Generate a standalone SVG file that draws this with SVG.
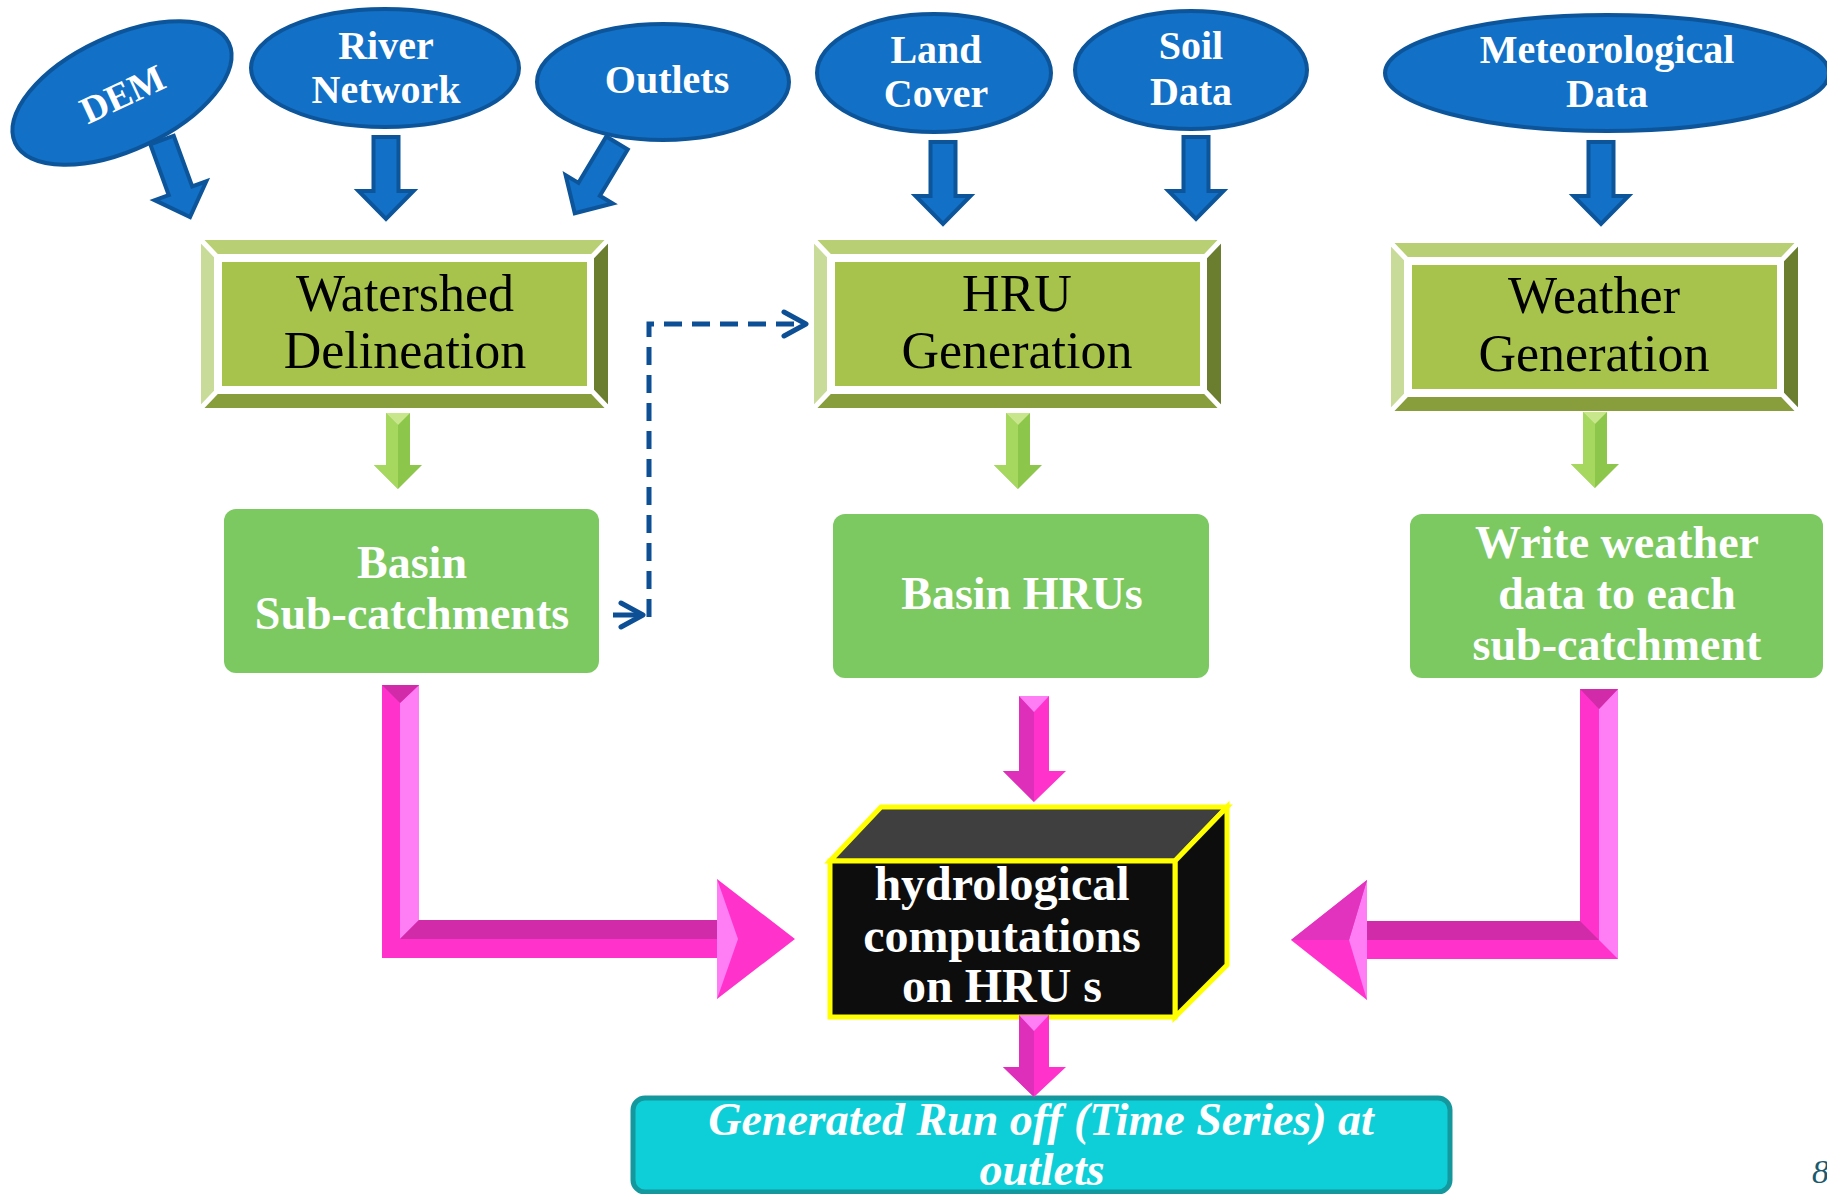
<svg xmlns="http://www.w3.org/2000/svg" xmlns:xlink="http://www.w3.org/1999/xlink" width="1827" height="1194" viewBox="0 0 1827 1194">
<style>
.ell{fill:#1270C6;stroke:#0C559A;stroke-width:4}
.et{font-family:"Liberation Serif",serif;font-weight:bold;font-size:40px;fill:#fff;text-anchor:middle}
.bt{font-family:"Liberation Serif",serif;font-size:52px;fill:#000;text-anchor:middle}
.gr{fill:#7CC962}
.gt{font-family:"Liberation Serif",serif;font-weight:bold;font-size:46px;fill:#fff;text-anchor:middle}
.ct{font-family:"Liberation Serif",serif;font-weight:bold;font-size:48px;fill:#fff;text-anchor:middle}
.cube{stroke:#FFFF00;stroke-width:5;stroke-linejoin:miter}
.ot{font-family:"Liberation Serif",serif;font-weight:bold;font-style:italic;font-size:46px;fill:#fff;text-anchor:middle}
.pk{fill:#FF33CC}
.pl{fill:#FF7DF5}
.pd{fill:#D22BAA}
.dash{fill:none;stroke:#0D4F95;stroke-width:5;stroke-dasharray:18 10}
.solid{fill:none;stroke:#0D4F95;stroke-width:5}
</style>
<defs>
<g id="bevelbox">
<polygon points="0,0 407,0 393,14 13,14" fill="#B8CF74"/>
<polygon points="0,0 13,14 13,154 0,168" fill="#C9DB98"/>
<polygon points="0,168 13,154 393,154 407,168" fill="#889D3C"/>
<polygon points="407,0 407,168 393,154 393,14" fill="#6B7D2F"/>
<rect x="13" y="14" width="380" height="140" fill="#fff"/>
<rect x="21" y="22" width="365" height="124" fill="#A8C34B"/>
<path d="M0,0 L21,22 M407,0 L386,22 M0,168 L21,146 M407,168 L386,146" stroke="#fff" stroke-width="5"/>
</g>
<path id="barrow" d="M-12.5,0 H12.5 V54 H27.5 L0,82 L-27.5,54 H-12.5 Z" fill="#1270C6" stroke="#0C559A" stroke-width="4"/>
<g id="garrow">
<path d="M-12,0 H12 V52 H24 L0,76 L-24,52 H-12 Z" fill="#8CC64A"/>
<path d="M-12,0 L0,12 V76 L-24,52 H-12 Z" fill="#A6D85F"/>
<path d="M-12,0 H12 L0,12 Z" fill="#C8E68C"/>
</g>
<marker id="chev" markerUnits="userSpaceOnUse" markerWidth="30" markerHeight="30" viewBox="0 0 30 30" refX="25" refY="15" orient="auto">
<path d="M3,3 L25,15 L3,27" fill="none" stroke="#0D4F95" stroke-width="5" stroke-dasharray="none" stroke-linecap="round" stroke-linejoin="round"/>
</marker>
</defs>

<g id="dem">
<ellipse class="ell" cx="122" cy="93" rx="118" ry="57" transform="rotate(-25 122 93)"/>
<text class="et" x="122" y="107" transform="rotate(-25 122 93)" style="font-size:38px">DEM</text>
</g>
<g id="river">
<ellipse class="ell" cx="385" cy="68" rx="134" ry="59"/>
<text class="et" x="386" y="59">River</text>
<text class="et" x="386" y="103">Network</text>
</g>
<g id="outlets">
<ellipse class="ell" cx="663" cy="82" rx="126" ry="58"/>
<text class="et" x="667" y="93">Outlets</text>
</g>
<g id="landcover">
<ellipse class="ell" cx="934" cy="73" rx="117" ry="59"/>
<text class="et" x="936" y="63">Land</text>
<text class="et" x="936" y="107">Cover</text>
</g>
<g id="soil">
<ellipse class="ell" cx="1191" cy="70" rx="116" ry="59"/>
<text class="et" x="1191" y="59">Soil</text>
<text class="et" x="1191" y="105">Data</text>
</g>
<g id="meteo">
<ellipse class="ell" cx="1607" cy="73" rx="222" ry="58"/>
<text class="et" x="1607" y="63">Meteorological</text>
<text class="et" x="1607" y="107">Data</text>
</g>

<g id="watershed">
<use xlink:href="#bevelbox" x="201" y="240"/>
<text class="bt" x="405" y="311">Watershed</text>
<text class="bt" x="405" y="368">Delineation</text>
</g>
<g id="hrugen">
<use xlink:href="#bevelbox" x="814" y="240"/>
<text class="bt" x="1017" y="311">HRU</text>
<text class="bt" x="1017" y="368">Generation</text>
</g>
<g id="weathergen">
<use xlink:href="#bevelbox" x="1391" y="243"/>
<text class="bt" x="1594" y="313">Weather</text>
<text class="bt" x="1594" y="371">Generation</text>
</g>

<g id="basin">
<rect class="gr" x="224" y="509" width="375" height="164" rx="12"/>
<text class="gt" x="412" y="578">Basin</text>
<text class="gt" x="412" y="629">Sub-catchments</text>
</g>
<g id="basinhrus">
<rect class="gr" x="833" y="514" width="376" height="164" rx="12"/>
<text class="gt" x="1022" y="609">Basin HRUs</text>
</g>
<g id="writeweather">
<rect class="gr" x="1410" y="514" width="413" height="164" rx="12"/>
<text class="gt" x="1617" y="558">Write weather</text>
<text class="gt" x="1617" y="609">data to each</text>
<text class="gt" x="1617" y="660">sub-catchment</text>
</g>

<g id="hydro">
<polygon class="cube" points="830,861 881,807 1227,807 1175,861" fill="#3F3F3F"/>
<polygon class="cube" points="1175,861 1227,807 1227,965 1175,1017" fill="#0D0D0D"/>
<rect class="cube" x="830" y="861" width="345" height="156" fill="#0D0D0D"/>
<text class="ct" x="1002" y="900">hydrological</text>
<text class="ct" x="1002" y="952">computations</text>
<text class="ct" x="1002" y="1002">on HRU s</text>
</g>

<g id="runoff">
<rect x="633" y="1098" width="817" height="94" rx="12" fill="#0ECFD8" stroke="#14989E" stroke-width="5"/>
<text class="ot" x="1041" y="1135">Generated Run off (Time Series) at</text>
<text class="ot" x="1042" y="1185">outlets</text>
</g>

<g id="connectors">
<use xlink:href="#barrow" transform="translate(162,140) rotate(-20)"/>
<use xlink:href="#barrow" transform="translate(386,137)"/>
<use xlink:href="#barrow" transform="translate(617,143) rotate(31)"/>
<use xlink:href="#barrow" transform="translate(943,142)"/>
<use xlink:href="#barrow" transform="translate(1196,137)"/>
<use xlink:href="#barrow" transform="translate(1601,142)"/>

<use xlink:href="#garrow" transform="translate(398,413)"/>
<use xlink:href="#garrow" transform="translate(1018,413)"/>
<use xlink:href="#garrow" transform="translate(1595,412)"/>

<path class="solid" d="M613,615 H643" marker-end="url(#chev)"/>
<path class="dash" d="M649,617 V324 H806" marker-end="url(#chev)"/>

<g id="pink-left">
<path class="pk" d="M382,685 H419 V920 H717 V879 L795,939 L717,999 V958 H382 Z"/>
<polygon class="pl" points="400,703 419,685 419,920 400,939"/>
<polygon class="pd" points="382,685 419,685 400,703"/>
<polygon class="pd" points="400,939 419,920 717,920 717,939"/>
<polygon class="pl" points="717,879 738,939 717,999"/>
</g>
<g id="pink-right">
<path class="pk" d="M1580,689 H1618 V959 H1367 V1000 L1291,940 L1367,880 V921 H1580 Z"/>
<polygon class="pl" points="1599,709 1618,689 1618,959 1599,940"/>
<polygon class="pd" points="1580,689 1618,689 1599,709"/>
<polygon class="pd" points="1367,921 1580,921 1599,940 1367,940"/>
<polygon class="pl" points="1367,880 1349,940 1367,1000"/>
<polygon fill="#E233BE" points="1291,940 1367,880 1349,940"/>
</g>
<g id="pink-mid">
<path class="pk" d="M1019,696 H1049 V771 H1066 L1034,802 L1003,771 H1019 Z"/>
<polygon fill="#DE2FBA" points="1019,696 1034,712 1034,802 1003,771 1019,771"/>
<polygon class="pl" points="1019,696 1049,696 1034,712"/>
</g>
<g id="pink-low">
<path class="pk" d="M1019,1015 H1049 V1067 H1066 L1034,1097 L1003,1067 H1019 Z"/>
<polygon fill="#DE2FBA" points="1019,1015 1034,1031 1034,1097 1003,1067 1019,1067"/>
<polygon class="pl" points="1019,1015 1049,1015 1034,1031"/>
</g>
</g>

<text x="1812" y="1183" font-family="Liberation Serif, serif" font-style="italic" font-size="34" fill="#1B5A6E">8</text>
</svg>
